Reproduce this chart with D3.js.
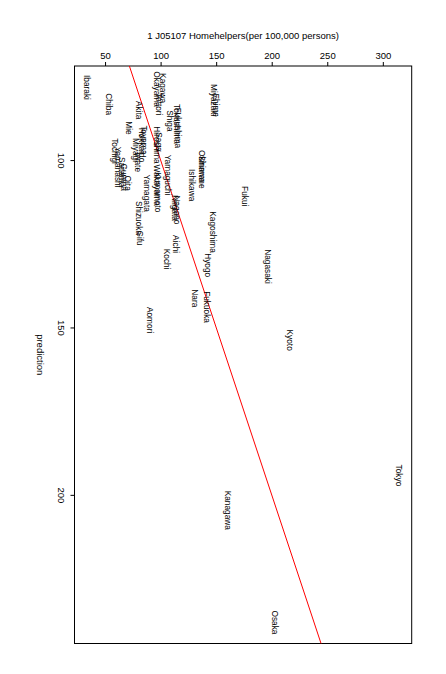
<!DOCTYPE html>
<html>
<head>
<meta charset="utf-8">
<script src="https://cdn.jsdelivr.net/npm/d3@7"></script>
<style>
  body { margin: 0; background: #fff; }
  text { font-family: "Liberation Sans", Arial, sans-serif; fill: #000; }
</style>
</head>
<body>
<script>
// prefecture names, observed homehelpers, predicted values
const prefs = ['Hokkaido','Aomori','Iwate','Miyagi','Akita','Yamagata','Fukushima','Ibaraki','Tochigi','Gunma',
  'Saitama','Chiba','Tokyo','Kanagawa','Niigata','Toyama','Ishikawa','Fukui','Yamanashi','Nagano',
  'Gifu','Shizuoka','Aichi','Mie','Shiga','Kyoto','Osaka','Hyogo','Nara','Wakayama',
  'Tottori','Shimane','Okayama','Hiroshima','Yamaguchi','Tokushima','Kagawa','Ehime','Kochi','Fukuoka',
  'Saga','Nagasaki','Kumamoto','Oita','Miyazaki','Kagoshima','Okinawa']
const homehelpers = [83.3, 90.5, 79.7, 77.9, 80.6, 87.8, 115.7, 33.8, 59.0, 67.1,
  65.3, 53.6, 314.6, 160.7, 113.0, 85.1, 128.3, 176.0, 61.7, 114.8,
  81.5, 80.6, 113.9, 71.6, 108.5, 216.5, 203.0, 142.7, 131.0, 96.8,
  98.6, 137.3, 96.8, 96.8, 106.7, 114.8, 102.2, 149.9, 105.8, 141.8,
  98.6, 196.7, 97.7, 70.7, 148.1, 147.2, 137.3]
const prediction = [95.5, 147.8, 100.6, 97.0, 85.1, 109.9, 90.4, 78.3, 97.3, 105.1,
  103.6, 83.3, 194.2, 204.6, 114.3, 94.0, 107.5, 110.8, 102.1, 114.9,
  123.3, 117.3, 125.1, 90.4, 88.3, 153.8, 238.1, 131.4, 141.3, 107.5,
  83.3, 103.6, 78.8, 95.5, 104.5, 89.2, 78.5, 83.6, 129.6, 143.9,
  94.6, 131.8, 109.6, 106.9, 82.1, 121.5, 101.8]
const xTicks = [50, 100, 150, 200, 250, 300]
const yTicks = [100, 150, 200]

const W = 446, H = 674
const L = 74.5, R = 411.7, T = 66, B = 643.5

const svg = d3.select('body').append('svg')
    .attr('width', W)
    .attr('height', H)

const x = d3.scaleLinear().domain([22.5, 326]).range([L, R])
const y = d3.scaleLinear().domain([71.9, 244.4]).range([T, B])

svg.append('clipPath').attr('id', 'plot')
  .append('rect').attr('x', L).attr('y', T).attr('width', R - L).attr('height', B - T)

// top axis
const ax = svg.append('g')
    .attr('transform', `translate(0,${T})`)
    .call(d3.axisTop(x).tickValues(xTicks).tickSize(4).tickPadding(3).tickFormat(d3.format('d')))
ax.select('.domain').remove()
ax.selectAll('text').style('font-size', '9.5px').style('font-family', '"Liberation Sans", Arial, sans-serif')
ax.selectAll('line').attr('stroke', '#000')

// left axis, labels turned
const ay = svg.append('g')
    .attr('transform', `translate(${L},0)`)
    .call(d3.axisLeft(y).tickValues(yTicks).tickSize(4).tickFormat(d3.format('d')))
ay.select('.domain').remove()
ay.selectAll('line').attr('stroke', '#000')
ay.selectAll('text')
    .attr('x', null).attr('dy', null)
    .attr('text-anchor', 'middle')
    .attr('dominant-baseline', 'central')
    .attr('transform', 'translate(-13,0) rotate(90)')
    .style('font-size', '9.5px')
    .style('font-family', '"Liberation Sans", Arial, sans-serif')

// box
svg.append('rect')
    .attr('x', L).attr('y', T)
    .attr('width', R - L).attr('height', B - T)
    .attr('fill', 'none').attr('stroke', '#000')

// titles
svg.append('text')
    .attr('x', (L + R) / 2).attr('y', 35)
    .attr('text-anchor', 'middle').attr('dominant-baseline', 'central')
    .style('font-size', '9.5px')
    .text('1 J05107 Homehelpers(per 100,000 persons)')

svg.append('text')
    .attr('transform', `translate(40,${(T + B) / 2}) rotate(90)`)
    .attr('text-anchor', 'middle').attr('dominant-baseline', 'central')
    .style('font-size', '9.5px')
    .text('prediction')

// identity line
const lineDom = [22.5, 326]
svg.append('line')
    .attr('clip-path', 'url(#plot)')
    .attr('x1', x(lineDom[0])).attr('y1', y(lineDom[0]))
    .attr('x2', x(lineDom[1])).attr('y2', y(lineDom[1]))
    .attr('stroke', 'red').attr('stroke-width', 1)

// prefecture labels
svg.selectAll('text.pref')
    .data(prefs)
    .enter()
    .append('text')
    .attr('class', 'pref')
    .attr('transform', (d, i) => `translate(${x(homehelpers[i])},${y(prediction[i])}) rotate(90)`)
    .attr('text-anchor', 'middle')
    .attr('dominant-baseline', 'central')
    .style('font-size', '8.3px')
    .text(d => d)
</script>
</body>
</html>
